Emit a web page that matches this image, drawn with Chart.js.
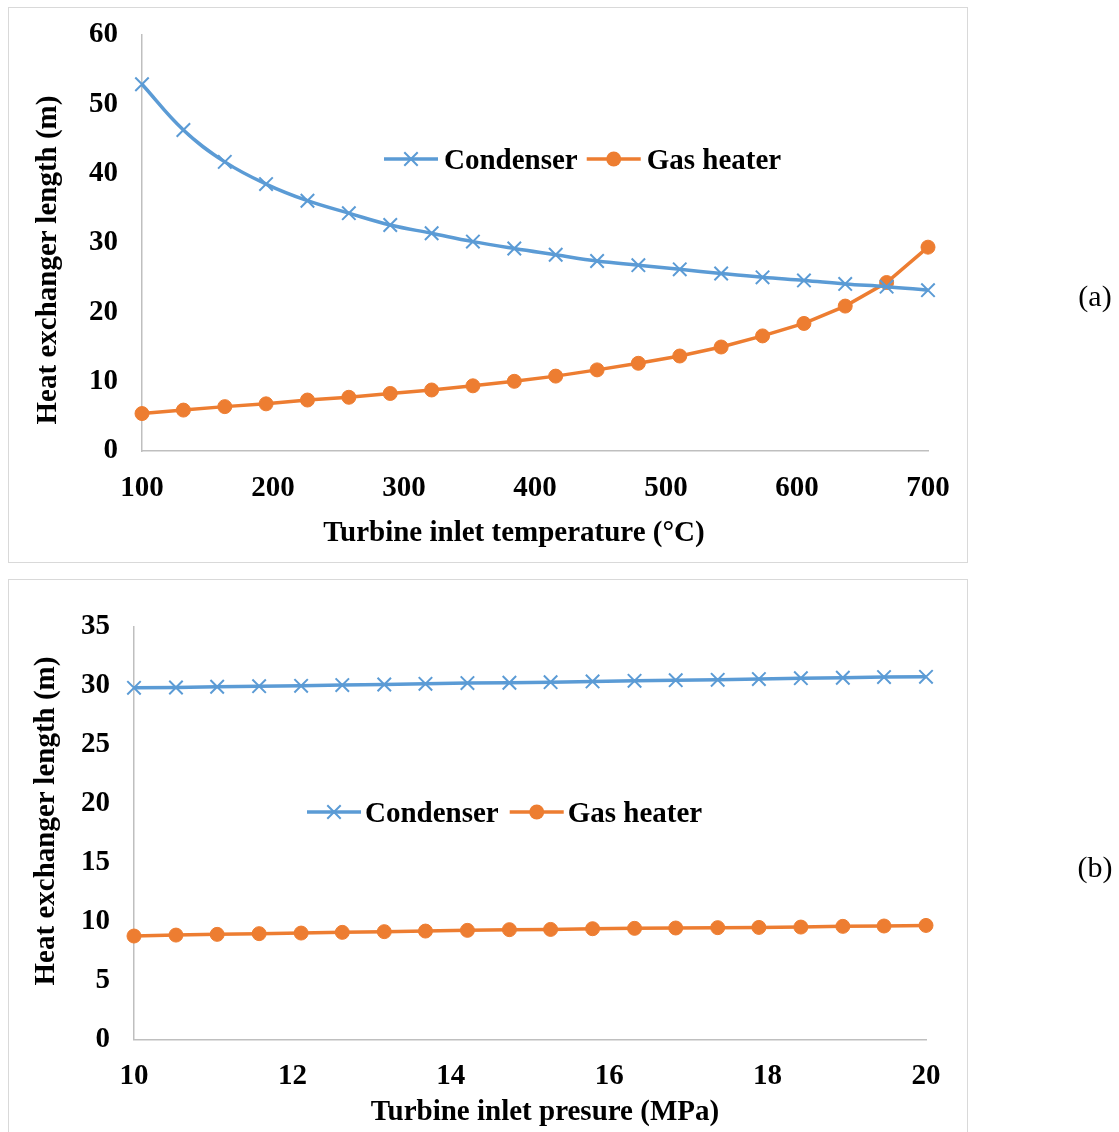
<!DOCTYPE html>
<html>
<head>
<meta charset="utf-8">
<script src="https://cdn.jsdelivr.net/npm/chart.js@4.4.1/dist/chart.umd.min.js"></script>
<style>
  body {
    margin: 0;
    background: #fff;
    width: 1119px;
    height: 1132px;
    overflow: hidden;
    position: relative;
    font-family: 'Liberation Serif', 'Times New Roman', serif;
  }
  .frame { position: absolute; border: 1.5px solid #d9d9d9; box-sizing: border-box; }
  .plot { position: absolute; left: 0; line-height: 0; }
  .plot canvas { display: block; }
  .label {
    position: absolute;
    transform: translate(-50%, -50%);
    white-space: nowrap;
    font-weight: bold;
    font-size: 29px;
    line-height: 1;
    color: #000;
  }
  .label.vert { transform: translate(-50%, -50%) rotate(-90deg); }
  .label.panel { font-weight: normal; font-size: 30px; }
</style>
</head>
<body>

<div class="frame" style="left:8px; top:7px; width:960px; height:556px;"></div>
<div class="frame" style="left:8px; top:579px; width:960px; height:600px;"></div>

<div class="plot" style="top:0px;"><canvas id="tempChart" width="1119" height="570"></canvas></div>
<div class="plot" style="top:570px;"><canvas id="pressChart" width="1119" height="562"></canvas></div>

<div class="label vert" style="left:46px; top:260px;">Heat exchanger length (m)</div>
<div class="label" style="left:514px; top:531px;">Turbine inlet temperature (°C)</div>
<div class="label panel" style="left:1095px; top:296px;">(a)</div>

<div class="label vert" style="left:44px; top:821px;">Heat exchanger length (m)</div>
<div class="label" style="left:545px; top:1110px;">Turbine inlet presure (MPa)</div>
<div class="label panel" style="left:1095px; top:867px;">(b)</div>

<script>
// (a) heat exchanger length vs turbine inlet temperature
const tempC = [100, 131.6, 163.2, 194.7, 226.3, 257.9, 289.5, 321.1, 352.6, 384.2,
               415.8, 447.4, 478.9, 510.5, 542.1, 573.7, 605.3, 636.8, 668.4, 700];
const condenserA = [52.9, 46.3, 41.7, 38.5, 36.1, 34.3, 32.6, 31.4, 30.2, 29.2,
                    28.3, 27.4, 26.8, 26.2, 25.6, 25.05, 24.6, 24.1, 23.7, 23.2];
const gasHeaterA = [5.4, 5.9, 6.4, 6.8, 7.35, 7.75, 8.3, 8.8, 9.4, 10.05,
                    10.8, 11.7, 12.65, 13.7, 15.0, 16.6, 18.4, 20.9, 24.3, 29.4];
const tempTicks = [100, 200, 300, 400, 500, 600, 700];
const lengthTicksA = [0, 10, 20, 30, 40, 50, 60];

// (b) heat exchanger length vs turbine inlet pressure
const pressureMPa = [10, 10.53, 11.05, 11.58, 12.11, 12.63, 13.16, 13.68, 14.21, 14.74,
                     15.26, 15.79, 16.32, 16.84, 17.37, 17.89, 18.42, 18.95, 19.47, 20];
const condenserB = [29.84, 29.87, 29.93, 29.98, 30.01, 30.07, 30.12, 30.18, 30.24, 30.27,
                    30.32, 30.38, 30.43, 30.49, 30.52, 30.58, 30.66, 30.69, 30.75, 30.77];
const gasHeaterB = [8.78, 8.86, 8.92, 8.98, 9.03, 9.09, 9.15, 9.20, 9.26, 9.32,
                    9.34, 9.40, 9.43, 9.46, 9.49, 9.51, 9.54, 9.60, 9.63, 9.68];
const pressureTicks = [10, 12, 14, 16, 18, 20];
const lengthTicksB = [0, 5, 10, 15, 20, 25, 30, 35];

const BLUE = '#5B9BD5';
const ORANGE = '#ED7D31';
const FONT = "'Liberation Serif', 'Times New Roman', serif";

function points(xs, ys) {
    return xs.map((x, i) => ({ x: x, y: ys[i] }));
}

// legend drawn inside the plot area, one row
const inlineLegend = {
    id: 'inlineLegend',
    afterDatasetsDraw(chart, args, opts) {
        const ctx = chart.ctx;
        let x = opts.x;
        const y = opts.y;
        ctx.save();
        ctx.font = 'bold 29px ' + FONT;
        ctx.textBaseline = 'middle';
        chart.data.datasets.forEach(ds => {
            ctx.strokeStyle = ds.borderColor;
            ctx.lineWidth = 3.5;
            ctx.beginPath();
            ctx.moveTo(x, y);
            ctx.lineTo(x + 54, y);
            ctx.stroke();
            const mx = x + 27;
            if (ds.pointStyle === 'crossRot') {
                ctx.lineWidth = 2;
                ctx.beginPath();
                ctx.moveTo(mx - 6.7, y - 6.7); ctx.lineTo(mx + 6.7, y + 6.7);
                ctx.moveTo(mx - 6.7, y + 6.7); ctx.lineTo(mx + 6.7, y - 6.7);
                ctx.stroke();
            } else {
                ctx.fillStyle = ds.pointBackgroundColor;
                ctx.beginPath();
                ctx.arc(mx, y, 7.5, 0, Math.PI * 2);
                ctx.fill();
            }
            x += 54 + opts.gap;
            ctx.fillStyle = '#000';
            ctx.fillText(ds.label, x, y + 3);
            x += ctx.measureText(ds.label).width + opts.spacing;
        });
        ctx.restore();
    }
};

function makeChart(canvasId, cfg) {
    return new Chart(document.getElementById(canvasId), {
        type: 'line',
        data: {
            datasets: [{
                label: 'Condenser',
                data: points(cfg.xs, cfg.condenser),
                borderColor: BLUE,
                backgroundColor: BLUE,
                borderWidth: 3.5,
                tension: cfg.smooth ? 0.4 : 0,
                pointStyle: 'crossRot',
                pointRadius: 9.5,
                pointBorderWidth: 2,
                pointBorderColor: BLUE,
                pointBackgroundColor: BLUE,
                clip: false
            }, {
                label: 'Gas heater',
                data: points(cfg.xs, cfg.gasHeater),
                borderColor: ORANGE,
                backgroundColor: ORANGE,
                borderWidth: 3.5,
                tension: 0,
                pointStyle: 'circle',
                pointRadius: 7,
                pointBorderWidth: 1,
                pointBorderColor: ORANGE,
                pointBackgroundColor: ORANGE,
                clip: false
            }]
        },
        options: {
            responsive: false,
            animation: false,
            layout: { padding: cfg.padding },
            plugins: {
                legend: { display: false },
                tooltip: { enabled: false },
                inlineLegend: cfg.legend
            },
            scales: {
                x: {
                    type: 'linear',
                    min: cfg.xTicks[0],
                    max: cfg.xTicks[cfg.xTicks.length - 1],
                    afterBuildTicks: axis => { axis.ticks = cfg.xTicks.map(v => ({ value: v })); },
                    afterFit: axis => { axis.height = 60; },
                    grid: { display: false, drawTicks: false },
                    border: { display: true, color: '#BFBFBF', width: 1.5 },
                    ticks: {
                        color: '#000',
                        padding: 20,
                        maxRotation: 0,
                        font: { family: FONT, size: 29, weight: 'bold' }
                    }
                },
                y: {
                    min: cfg.yTicks[0],
                    max: cfg.yTicks[cfg.yTicks.length - 1],
                    afterBuildTicks: axis => { axis.ticks = cfg.yTicks.map(v => ({ value: v })); },
                    afterFit: axis => {
                        // fixed axis width; keep the tick padding from pushing the plot down
                        axis.width = cfg.axisLeft;
                        axis.paddingTop = 0;
                        axis.paddingBottom = 0;
                    },
                    grid: { display: false, drawTicks: false },
                    border: { display: true, color: '#BFBFBF', width: 1.5 },
                    ticks: {
                        color: '#000',
                        padding: 24,
                        font: { family: FONT, size: 29, weight: 'bold' }
                    }
                }
            }
        },
        plugins: [inlineLegend]
    });
}

makeChart('tempChart', {
    xs: tempC,
    condenser: condenserA,
    gasHeater: gasHeaterA,
    xTicks: tempTicks,
    yTicks: lengthTicksA,
    smooth: true,
    axisLeft: 142,
    padding: { left: 0, top: 35, right: 191, bottom: 59 },
    legend: { x: 384, y: 159, gap: 6, spacing: 9 }
});

makeChart('pressChart', {
    xs: pressureMPa,
    condenser: condenserB,
    gasHeater: gasHeaterB,
    xTicks: pressureTicks,
    yTicks: lengthTicksB,
    smooth: false,
    axisLeft: 134,
    padding: { left: 0, top: 57, right: 193, bottom: 32.5 },
    legend: { x: 307, y: 242, gap: 4, spacing: 11 }
});
</script>
</body>
</html>
